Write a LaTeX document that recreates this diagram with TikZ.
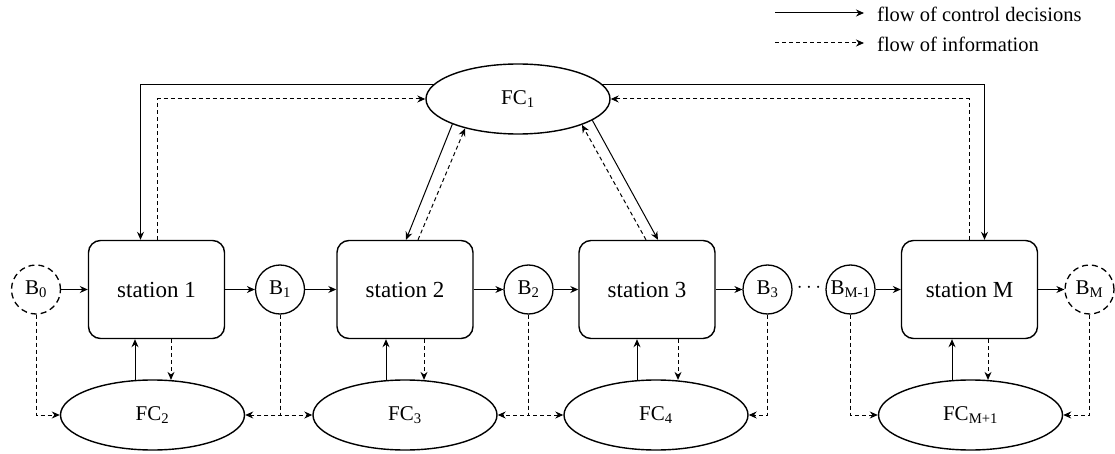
\documentclass[tikz,border=0pt]{standalone}
\usepackage{fontspec}
\setmainfont{Liberation Serif}
\usetikzlibrary{arrows.meta,shapes.geometric,calc}
\begin{document}
\begin{tikzpicture}[x=1pt,y=-1pt,
  stationbox/.style={draw,line width=1.4pt,rounded corners=12pt,minimum width=136pt,minimum height=98pt,inner sep=0pt,font=\fontsize{23}{27}\selectfont},
  buf/.style={draw,line width=1.3pt,circle,minimum size=49pt,inner sep=0pt,font=\fontsize{21}{25}\selectfont},
  dbuf/.style={buf,dash pattern=on 6pt off 4pt},
  fcell/.style={draw,line width=1.4pt,ellipse,minimum width=184pt,minimum height=70pt,inner sep=0pt,font=\fontsize{21}{25}\selectfont},
  ctrl/.style={line width=1pt,-{Stealth[length=8pt,width=7pt]}},
  info/.style={line width=1pt,dash pattern=on 4pt off 3pt,-{Stealth[length=8pt,width=7pt]}},
  legtext/.style={anchor=west,inner sep=0pt,font=\fontsize{20.5}{24}\selectfont}
]
\useasboundingbox (0,0) rectangle (1115,454);

% legend
\coordinate (l1s) at (775,13);
\coordinate (l1e) at (864,13);
\coordinate (l2s) at (775,43);
\coordinate (l2e) at (864,43);
\draw[ctrl] (l1s) -- (l1e);
\draw[info] (l2s) -- (l2e);
\node[legtext] (lt1) at (877,14) {flow of control decisions};
\node[legtext] (lt2) at (877,44) {flow of information};

% stations
\node[stationbox] (s1) at (156.5,289.5) {station 1};
\node[stationbox] (s2) at (405,289.5) {station 2};
\node[stationbox] (s3) at (647,289.5) {station 3};
\node[stationbox] (sM) at (969.5,289.5) {station M};

% buffers
\node[dbuf] (b0) at (36,289.5) {B\textsubscript{0}};
\node[buf] (b1) at (280,289.5) {B\textsubscript{1}};
\node[buf] (b2) at (528.5,289.5) {B\textsubscript{2}};
\node[buf] (b3) at (767.5,289.5) {B\textsubscript{3}};
\node[buf] (bm1) at (850.5,289.5) {B\textsubscript{M-1}};
\node[dbuf] (bM) at (1089.5,289.5) {B\textsubscript{M}};
\node[font=\fontsize{22}{26}\selectfont] (dots) at (809,288) {$\cdots$};

% FCs
\node[fcell] (fc1) at (518,99) {FC\textsubscript{1}};
\node[fcell] (fc2) at (152.5,415) {FC\textsubscript{2}};
\node[fcell] (fc3) at (405,415) {FC\textsubscript{3}};
\node[fcell] (fc4) at (656,415) {FC\textsubscript{4}};
\node[fcell] (fcM) at (970.5,415) {FC\textsubscript{M+1}};

% horizontal material flow
\draw[ctrl] (b0) -- (s1);
\draw[ctrl] (s1) -- (b1);
\draw[ctrl] (b1) -- (s2);
\draw[ctrl] (s2) -- (b2);
\draw[ctrl] (b2) -- (s3);
\draw[ctrl] (s3) -- (b3);
\draw[ctrl] (bm1) -- (sM);
\draw[ctrl] (sM) -- (bM);

% FC1 connections
\draw[ctrl] (fc1.170) -| ([xshift=-16pt]s1.north);
\draw[info] ([xshift=1pt]s1.north) |- (fc1.west);
\draw[ctrl] (fc1.10) -| ([xshift=15pt]sM.north);
\draw[info] ([xshift=0pt]sM.north) |- (fc1.east);
\draw[ctrl] (fc1.201) -- ([xshift=1pt]s2.north);
\draw[info] ([xshift=13pt]s2.north) -- (fc1.209);
\draw[ctrl] (fc1.344) -- ([xshift=11pt]s3.north);
\draw[info] ([xshift=-1pt]s3.north) -- (fc1.338);

% station <-> lower FCs
\coordinate (u1) at (135,0);
\coordinate (d1) at (171,0);
\coordinate (u2) at (386,0);
\coordinate (d2) at (424,0);
\coordinate (u3) at (637,0);
\coordinate (d3) at (678,0);
\coordinate (u4) at (952,0);
\coordinate (d4) at (988,0);
\draw[ctrl] ($(u1 |- fc2.north)+(0,0.6)$) -- (u1 |- s1.south);
\draw[info] (d1 |- s1.south) -- ($(d1 |- fc2.north)+(0,0.6)$);
\draw[ctrl] ($(u2 |- fc3.north)+(0,0.6)$) -- (u2 |- s2.south);
\draw[info] (d2 |- s2.south) -- ($(d2 |- fc3.north)+(0,0.6)$);
\draw[ctrl] ($(u3 |- fc4.north)+(0,0.6)$) -- (u3 |- s3.south);
\draw[info] (d3 |- s3.south) -- ($(d3 |- fc4.north)+(0,0.6)$);
\draw[ctrl] ($(u4 |- fcM.north)+(0,0.6)$) -- (u4 |- sM.south);
\draw[info] (d4 |- sM.south) -- ($(d4 |- fcM.north)+(0,0.6)$);

% buffers -> lower FCs
\draw[info] (b0.south) |- (fc2.west);
\draw[info] (b1.south) |- (fc2.east);
\draw[info] (b1.south) |- (fc3.west);
\draw[info] (b2.south) |- (fc3.east);
\draw[info] (b2.south) |- (fc4.west);
\draw[info] (b3.south) |- (fc4.east);
\draw[info] (bm1.south) |- (fcM.west);
\draw[info] (bM.south) |- (fcM.east);
\end{tikzpicture}
\end{document}
